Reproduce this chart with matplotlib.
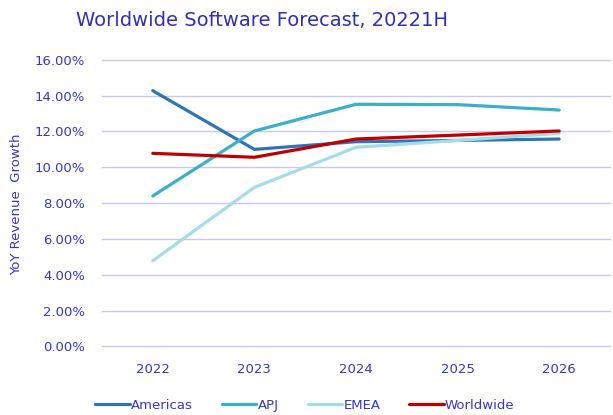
import numpy as np
import matplotlib.pyplot as plt
import matplotlib.ticker as ticker

years = ['2022', '2023', '2024', '2025', '2026']
americas = [14.28, 11.00, 11.43, 11.50, 11.58]
apj = [8.40, 12.03, 13.52, 13.50, 13.20]
emea = [4.78, 8.88, 11.12, 11.50, 11.90]
worldwide = [10.78, 10.56, 11.58, 11.80, 12.03]

txt = '#3535c8'
series = [('Americas', americas, '#2e75b6'),
          ('APJ', apj, '#3aafc9'),
          ('EMEA', emea, '#a6dce7'),
          ('Worldwide', worldwide, '#c00000')]

fig = plt.figure(figsize=(6.13, 4.15), dpi=100)
ax = fig.add_axes([102/613, 1-346.3/415, 508/613, (346.3-59.9)/415])

x = np.arange(len(years))
for name, vals, col in series:
    ax.plot(x, vals, color=col, lw=2.3, label=name, solid_capstyle='round')

ax.set_xlim(-0.5, 4.5)
ax.set_ylim(0, 16)
ax.set_xticks(x)
ax.set_xticklabels(years)
ax.yaxis.set_major_locator(ticker.MultipleLocator(2))
ax.yaxis.set_major_formatter(ticker.FuncFormatter(lambda v, p: f'{v:.2f}%'))
ax.grid(axis='y', color='#c8c8f4', lw=1)
for gl in ax.get_ygridlines():
    gl.set_clip_on(False)
ax.set_axisbelow(True)
for s in ax.spines.values():
    s.set_visible(False)
ax.tick_params(length=0, colors=txt, labelsize=9.5)
ax.tick_params(axis='y', pad=12)
ax.tick_params(axis='x', pad=12)

fig.text(17/613, 1-204/415, 'YoY Revenue  Growth', rotation=90, ha='center', va='center',
         color=txt, fontsize=9.5)
fig.text(262/613, 1-20/415, 'Worldwide Software Forecast, 20221H', ha='center', va='center',
         color='#2f2fb8', fontsize=14)

fig.legend(loc='center', bbox_to_anchor=(305/613, 1-405/415), ncol=4, frameon=False,
           handlelength=2.6, handletextpad=0.1, columnspacing=2.2, labelcolor=txt,
           fontsize=9.5)

fig.savefig('out.png', dpi=100)
